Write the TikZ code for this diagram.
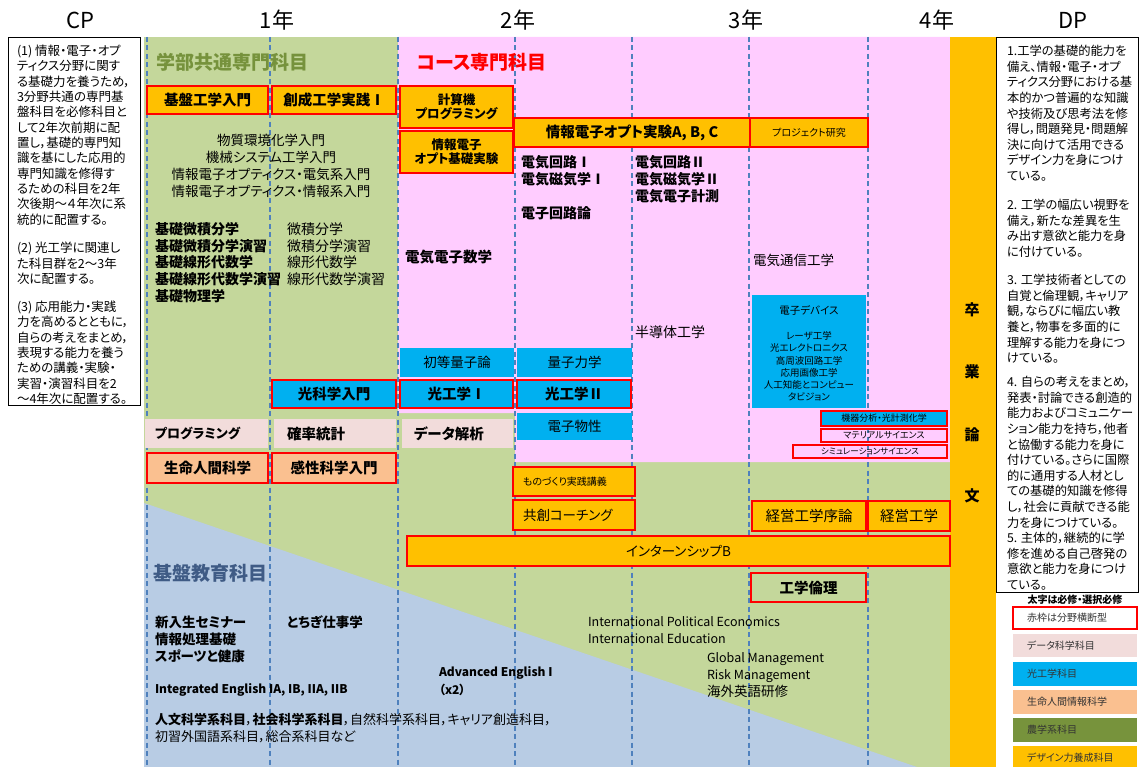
\documentclass[tikz,border=0pt]{standalone}
\usepackage{fontspec}
\setmainfont{Noto Sans CJK JP}[RawFeature=+palt]
\definecolor{gbg}{HTML}{C4D79B}
\definecolor{pbg}{HTML}{FFCCFF}
\definecolor{bbg}{HTML}{B8CCE4}
\definecolor{orng}{HTML}{FFC000}
\definecolor{sky}{HTML}{00B0F0}
\definecolor{dpink}{HTML}{F2DCDB}
\definecolor{salmon}{HTML}{FAC090}
\definecolor{olive}{HTML}{77933C}
\definecolor{gridblue}{HTML}{4F81BD}
\definecolor{hdgreen}{HTML}{76923C}
\definecolor{hdblue}{HTML}{3F5B85}
\definecolor{lgtext}{HTML}{333333}
\newcommand\fsz[1]{\fontsize{#1pt}{#1pt}\selectfont}
\newcommand\bx[7]{\node[#6,minimum width={(#4-#2)*1pt},minimum height={(#5-#3)*1pt},align=center] (#1) at ({(#2+#4)/2},{(#3+#5)/2}) {#7};}
\tikzset{
  every node/.style={inner sep=0pt,outer sep=0pt},
  redb/.style={draw=red,line width=2pt},
  obox/.style={fill=orng,redb},
  sbox/.style={fill=sky},
  srbox/.style={fill=sky,redb},
  dbox/.style={fill=dpink},
  salbox/.style={fill=salmon,redb},
  bt/.style={font=\bfseries\fsz{14.5}},
  rt/.style={font=\fsz{13.5}},
  lt/.style={anchor=west},
  gridline/.style={draw=gridblue,line width=1.6pt,dash pattern=on 5pt off 3.5pt},
  lgt/.style={anchor=west,font=\fsz{10},text=lgtext},
  cpt/.style={anchor=west,font=\fsz{12.5}},
  dpt/.style={anchor=west,font=\fsz{12.3}},
}
\begin{document}
\begin{tikzpicture}[x=1pt,y=-1pt]
\useasboundingbox (0,0) rectangle (1145,767);
% backgrounds
\fill[gbg] (144,37) rectangle (950,767);
\fill[pbg] (398,37) -- (950,37) -- (950,462) -- (515,462) -- (515,413) -- (398,413) -- cycle;
\fill[bbg] (144,503) -- (917,767) -- (144,767) -- cycle;
\fill[orng] (950,37) rectangle (996,767);
\foreach \gx in {147,270,398,515,632,749,868} \draw[gridline] (\gx,37) -- (\gx,767);
% header labels
\node[font=\fsz{22}] (cp) at (80,20) {CP};
\node[font=\fsz{22}] (y1) at (277,20) {1年};
\node[font=\fsz{22}] (y2) at (518,20) {2年};
\node[font=\fsz{22}] (y3) at (746,20) {3年};
\node[font=\fsz{22}] (y4) at (937,20) {4年};
\node[font=\fsz{22}] (dp) at (1073,20) {DP};
% CP / DP boxes
\bx{cpbox}{8}{37}{140}{405}{draw=black,line width=0.9pt,fill=white}{}
\bx{dpbox}{996}{37}{1138}{592}{draw=black,line width=0.9pt,fill=white}{}
\foreach \txt [count=\i] in {{(1) 情報・電子・オプ},{ティクス分野に関す},{る基礎力を養うため，},{3分野共通の専門基},{盤科目を必修科目と},{して2年次前期に配},{置し，基礎的専門知},{識を基にした応用的},{専門知識を修得す},{るための科目を2年},{次後期～４年次に系},{統的に配置する。}}
  \node[cpt] (cpa\i) at (17,{51+(\i-1)*15.3}) {\txt};
\foreach \txt [count=\i] in {{(2) 光工学に関連し},{た科目群を2～3年},{次に配置する。}}
  \node[cpt] (cpb\i) at (17,{248+(\i-1)*15.3}) {\txt};
\foreach \txt [count=\i] in {{(3) 応用能力・実践},{力を高めるとともに，},{自らの考えをまとめ，},{表現する能力を養う},{ための講義・実験・},{実習・演習科目を2},{～4年次に配置する。}}
  \node[cpt] (cpc\i) at (17,{307+(\i-1)*15.3}) {\txt};
\foreach \txt [count=\i] in {{1.工学の基礎的能力を},{備え、情報・電子・オプ},{ティクス分野における基},{本的かつ普遍的な知識},{や技術及び思考法を修},{得し，問題発見・問題解},{決に向けて活用できる},{デザイン力を身につけ},{ている。}}
  \node[dpt] (dpa\i) at (1007,{51+(\i-1)*15.6}) {\txt};
\foreach \txt [count=\i] in {{2. 工学の幅広い視野を},{備え，新たな差異を生},{み出す意欲と能力を身},{に付けている。}}
  \node[dpt] (dpb\i) at (1007,{205+(\i-1)*15.6}) {\txt};
\foreach \txt [count=\i] in {{3. 工学技術者としての},{自覚と倫理観，キャリア},{観，ならびに幅広い教},{養と，物事を多面的に},{理解する能力を身につ},{けている。}}
  \node[dpt] (dpc\i) at (1007,{280+(\i-1)*15.6}) {\txt};
\foreach \txt [count=\i] in {{4. 自らの考えをまとめ，},{発表・討論できる創造的},{能力およびコミュニケー},{ション能力を持ち，他者},{と協働する能力を身に},{付けている。さらに国際},{的に通用する人材とし},{ての基礎的知識を修得},{し，社会に貢献できる能},{力を身につけている。},{5. 主体的，継続的に学},{修を進める自己啓発の},{意欲と能力を身につけ},{ている。}}
  \node[dpt] (dpd\i) at (1007,{382+(\i-1)*15.6}) {\txt};
% headings
\node[lt,font=\bfseries\fsz{19}] (hg1) at (156,62) {\textcolor{hdgreen}{学部共通専門科目}};
\node[lt,font=\bfseries\fsz{19}] (hg2) at (417,62) {\textcolor{red}{コース専門科目}};
\node[lt,font=\bfseries\fsz{19}] (hg3) at (153,573) {\textcolor{hdblue}{基盤教育科目}};
% boxes
\bx{kiban}{147}{86}{268}{114}{obox,bt}{基盤工学入門}
\bx{sousei}{272}{86}{396}{114}{obox,bt}{創成工学実践Ⅰ}
\bx{keisanki}{400}{86}{513}{128}{obox,font=\bfseries\fontsize{12.5pt}{14pt}\selectfont}{計算機\\プログラミング}
\bx{kisojikken}{400}{131}{513}{173}{obox,font=\bfseries\fontsize{12.5pt}{14pt}\selectfont}{情報電子\\オプト基礎実験}
\bx{optjikken}{514}{118}{750}{147}{obox,font=\bfseries\fsz{14.5}}{情報電子オプト実験A, B, C}
\bx{project}{750}{118}{868}{147}{obox,font=\fsz{10}}{プロジェクト研究}
\bx{shotou}{400}{348}{514}{377}{sbox,rt}{初等量子論}
\bx{ryoushi}{517}{348}{632}{377}{sbox,rt}{量子力学}
\bx{hikari}{272}{380}{396}{408}{srbox,bt}{光科学入門}
\bx{kou1}{400}{380}{513}{408}{srbox,bt}{光工学Ⅰ}
\bx{kou2}{517}{380}{631}{408}{srbox,bt}{光工学Ⅱ}
\bx{bussei}{517}{413}{632}{440}{sbox,rt}{電子物性}
\bx{device}{752}{295}{866}{408}{sbox}{}
\node[font=\fsz{10.5}] (dv1) at (809,310) {電子デバイス};
\foreach \txt [count=\i] in {{レーザ工学},{光エレクトロニクス},{高周波回路工学},{応用画像工学},{人工知能とコンピュー},{タビジョン}}
  \node[font=\fsz{9.5}] (dv\i x) at (809,{336+(\i-1)*12.2}) {\txt};
\bx{kiki}{821}{411}{947}{426}{srbox,font=\fsz{9}}{機器分析・光計測化学}
\bx{material}{821}{429}{947}{442}{redb,font=\fsz{9}}{マテリアルサイエンス}
\bx{simu}{793}{445}{947}{458}{redb,font=\fsz{8.5}}{シミュレーションサイエンス}
\bx{prog}{145}{419}{268}{448}{dbox}{}
\node[lt,font=\bfseries\fsz{13}] (progt) at ([xshift=10pt]prog.west) {プログラミング};
\bx{kakuritsu}{274}{419}{396}{448}{dbox}{}
\node[lt,bt] (kakuritsut) at ([xshift=13pt]kakuritsu.west) {確率統計};
\bx{data}{402}{419}{513}{448}{dbox}{}
\node[lt,bt] (datat) at ([xshift=12pt]data.west) {データ解析};
\bx{seimei}{147}{453}{268}{483}{salbox,bt}{生命人間科学}
\bx{kansei}{272}{453}{396}{483}{salbox,bt}{感性科学入門}
\bx{monozukuri}{513}{467}{635}{496}{obox}{}
\node[lt,font=\fsz{10}] (monot) at ([xshift=10pt]monozukuri.west) {ものづくり実践講義};
\bx{kyousou}{513}{500}{635}{530}{obox}{}
\node[lt,font=\fsz{13.5}] (kyousout) at ([xshift=10pt]kyousou.west) {共創コーチング};
\bx{joron}{752}{501}{866}{531}{obox,font=\fsz{14.5}}{経営工学序論}
\bx{keiei}{868}{501}{950}{531}{obox,font=\fsz{14.5}}{経営工学}
\bx{intern}{407}{536}{950}{566}{obox,font=\fsz{13.5}}{インターンシップB}
\bx{rinri}{751}{573}{866}{602}{redb,font=\bfseries\fsz{14.5}}{工学倫理}
% green area texts
\node[rt] (g1) at (271,140) {物質環境化学入門};
\node[rt] (g2) at (271,157) {機械システム工学入門};
\node[rt] (g3) at (271,174) {情報電子オプティクス・電気系入門};
\node[rt] (g4) at (271,191) {情報電子オプティクス・情報系入門};
\foreach \txt [count=\i] in {{基礎微積分学},{基礎微積分学演習},{基礎線形代数学},{基礎線形代数学演習},{基礎物理学}}
  \node[lt,font=\bfseries\fsz{14}] (kb\i) at (155,{229+(\i-1)*16.8}) {\txt};
\foreach \txt [count=\i] in {{微積分学},{微積分学演習},{線形代数学},{線形代数学演習}}
  \node[lt,font=\fsz{14}] (kr\i) at (287,{229+(\i-1)*16.8}) {\txt};
% pink area texts
\node[lt,font=\bfseries\fsz{14}] (p1) at (521,162) {電気回路Ⅰ};
\node[lt,font=\bfseries\fsz{14}] (p2) at (521,179) {電気磁気学Ⅰ};
\node[lt,font=\bfseries\fsz{14}] (p3) at (521,213) {電子回路論};
\node[lt,font=\bfseries\fsz{14}] (p4) at (635,162) {電気回路Ⅱ};
\node[lt,font=\bfseries\fsz{14}] (p5) at (635,179) {電気磁気学Ⅱ};
\node[lt,font=\bfseries\fsz{14}] (p6) at (635,196) {電気電子計測};
\node[lt,font=\bfseries\fsz{14.5}] (p7) at (405,257) {電気電子数学};
\node[lt,font=\fsz{14}] (p8) at (635,332) {半導体工学};
\node[lt,font=\fsz{13.5}] (p9) at (753,260) {電気通信工学};
% graduation thesis
\node[font=\bfseries\fsz{15}] (s1) at (972,310) {卒};
\node[font=\bfseries\fsz{15}] (s2) at (972,372) {業};
\node[font=\bfseries\fsz{15}] (s3) at (972,435) {論};
\node[font=\bfseries\fsz{15}] (s4) at (972,496) {文};
% lower texts
\node[lt,font=\bfseries\fsz{13.5}] (b1) at (155,622) {新入生セミナー};
\node[lt,font=\bfseries\fsz{13.5}] (b2) at (155,639) {情報処理基礎};
\node[lt,font=\bfseries\fsz{13.5}] (b3) at (155,656) {スポーツと健康};
\node[lt,font=\bfseries\fsz{13.5}] (b4) at (287,622) {とちぎ仕事学};
\node[lt,font=\bfseries\fsz{12}] (b5) at (155,690) {Integrated English IA, IB, IIA, IIB};
\node[lt,font=\bfseries\fsz{12}] (b6) at (439,673) {Advanced English I};
\node[lt,font=\bfseries\fsz{12}] (b7) at (439,690) {（x2）};
\node[lt,font=\fsz{13}] (b8) at (155,720) {\textbf{人文科学系科目}，\textbf{社会科学系科目}，自然科学系科目，キャリア創造科目，};
\node[lt,font=\fsz{13}] (b9) at (155,737) {初習外国語系科目，総合系科目など};
\node[lt,font=\fsz{12.5}] (i1) at (588,622) {International Political Economics};
\node[lt,font=\fsz{12.5}] (i2) at (588,639) {International Education};
\node[lt,font=\fsz{12.5}] (i3) at (707,659) {Global Management};
\node[lt,font=\fsz{12.5}] (i4) at (707,676) {Risk Management};
\node[lt,font=\fsz{13.5}] (i5) at (707,691) {海外英語研修};
% legend
\node[font=\bfseries\fsz{10}] (lg0) at (1075,600) {太字は必修・選択必修};
\bx{lg1}{1013}{607}{1137}{629}{fill=white,redb}{}
\node[lgt] (lg1t) at ([xshift=14pt]lg1.west) {赤枠は分野横断型};
\bx{lg2}{1013}{634}{1137}{657}{fill=dpink}{}
\node[lgt] (lg2t) at ([xshift=14pt]lg2.west) {データ科学科目};
\bx{lg3}{1013}{662}{1137}{686}{fill=sky}{}
\node[lgt] (lg3t) at ([xshift=14pt]lg3.west) {光工学科目};
\bx{lg4}{1013}{690}{1137}{714}{fill=salmon}{}
\node[lgt] (lg4t) at ([xshift=14pt]lg4.west) {生命人間情報科学};
\bx{lg5}{1013}{718}{1137}{742}{fill=olive}{}
\node[lgt] (lg5t) at ([xshift=14pt]lg5.west) {農学系科目};
\bx{lg6}{1013}{746}{1137}{770}{fill=orng}{}
\node[lgt] (lg6t) at ([xshift=14pt]lg6.west) {デザイン力養成科目};
\end{tikzpicture}
\end{document}
